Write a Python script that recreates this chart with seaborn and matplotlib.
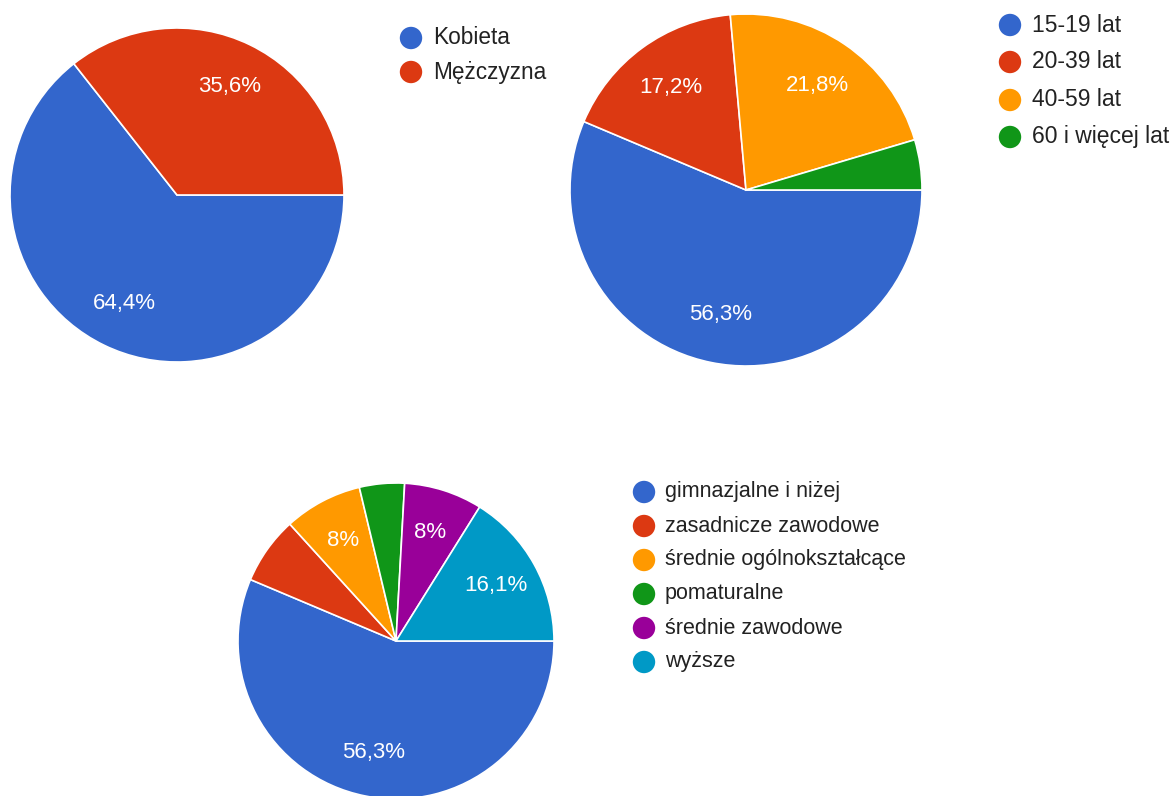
import matplotlib

matplotlib.use("Agg")
import matplotlib.pyplot as plt
import seaborn as sns

# dane (procenty)
plec = ["Kobieta", "Mężczyzna"]
plec_proc = [64.4, 35.6]

wiek = ["15-19 lat", "20-39 lat", "40-59 lat", "60 i więcej lat"]
wiek_proc = [56.3, 17.2, 21.8, 4.6]

wyksztalcenie = [
    "gimnazjalne i niżej",
    "zasadnicze zawodowe",
    "średnie ogólnokształcące",
    "pomaturalne",
    "średnie zawodowe",
    "wyższe",
]
wyksztalcenie_proc = [56.3, 6.9, 8.0, 4.6, 8.0, 16.1]

# kolory w stylu google forms
paleta = sns.color_palette(["#3366cc", "#dc3912", "#ff9900", "#109618", "#990099", "#0099c6"])

W, H = 1176, 796

sns.set_theme(style="white")
plt.rcParams["font.family"] = ["Liberation Sans", "DejaVu Sans"]


def etykieta(p):
    # male kawalki bez podpisu, jak w google
    if p < 7.5:
        return ""
    s = f"{p:.1f}".replace(".", ",")
    if s.endswith(",0"):
        s = s[:-2]
    return s + "%"


def kolo(fig, cx, cy, r, wartosci):
    # os w pikselach: srodek (cx, cy), promien r
    ax = fig.add_axes([(cx - r) / W, 1 - (cy + r) / H, 2 * r / W, 2 * r / H])
    wedges, texty = ax.pie(
        wartosci,
        labels=[etykieta(p) for p in wartosci],
        colors=paleta[: len(wartosci)],
        startangle=0,
        counterclock=False,
        labeldistance=0.72,
        wedgeprops=dict(edgecolor="white", linewidth=1.2),
        textprops=dict(color="white", fontsize=16),
    )
    for t in texty:
        t.set_ha("center")
        t.set_va("center")
    ax.set_xlim(-1, 1)
    ax.set_ylim(-1, 1)
    ax.set_aspect("equal")
    ax.axis("off")
    return ax


def legenda(ax, x_kropki, x_tekst, ys, nazwy, rozmiar=16):
    for i, (y, n) in enumerate(zip(ys, nazwy)):
        ax.scatter([x_kropki], [y], s=260, color=paleta[i], edgecolor="none", zorder=3)
        ax.text(x_tekst, y, n, fontsize=rozmiar, color="#222222", va="center", ha="left")


fig = plt.figure(figsize=(W / 100, H / 100), dpi=100)
fig.patch.set_facecolor("white")

kolo(fig, 177, 195, 167, plec_proc)
kolo(fig, 746, 190, 176, wiek_proc)
kolo(fig, 396, 641, 158, wyksztalcenie_proc)

# nakladka do legend w pikselach
nak = fig.add_axes([0, 0, 1, 1])
nak.set_xlim(0, W)
nak.set_ylim(H, 0)
nak.axis("off")
nak.patch.set_alpha(0)

legenda(nak, 411, 433, [38, 72], plec, 16.3)
legenda(nak, 1010, 1032, [25, 62, 100, 137], wiek, 16.5)
legenda(nak, 644, 665, [492, 526, 560, 594, 628, 662], wyksztalcenie, 15.5)

fig.savefig("out.png", dpi=100)
